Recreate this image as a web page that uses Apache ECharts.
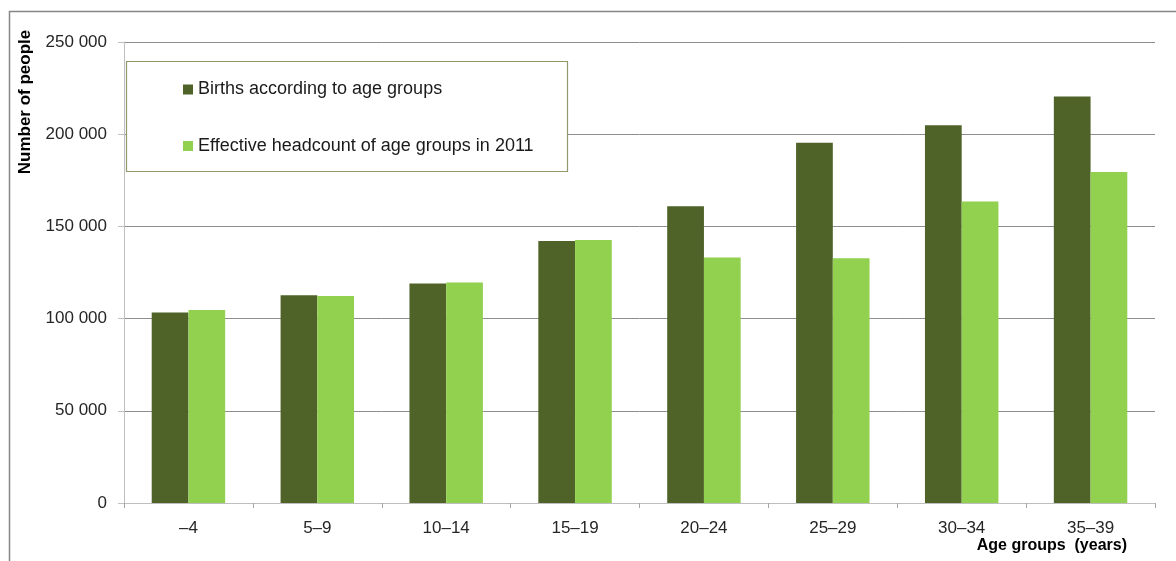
<!DOCTYPE html>
<html>
<head>
<meta charset="utf-8">
<script src="https://cdn.jsdelivr.net/npm/echarts@6/dist/echarts.min.js"></script>
<style>
html,body{margin:0;padding:0;background:#fff;}
#chart{width:1176px;height:561px;}
</style>
</head>
<body>
<div id="chart"></div>
<script>
var categories = ['–4', '5–9', '10–14', '15–19', '20–24', '25–29', '30–34', '35–39'];
var births = [103300, 112600, 119100, 142100, 160900, 195400, 204800, 220400];
var headcount = [104700, 112300, 119600, 142600, 133200, 132700, 163500, 179500];
var seriesNames = ['Births according to age groups', 'Effective headcount of age groups in 2011'];
var yTitle = 'Number of people';
var xTitle = 'Age groups  (years)';

var FONT = '"Liberation Sans", Arial, sans-serif';
var chart = echarts.init(document.getElementById('chart'));
chart.setOption({
  animation: false,
  backgroundColor: '#ffffff',
  grid: { left: 124, right: 21, top: 42, bottom: 58, containLabel: false },
  legend: {
    orient: 'vertical',
    left: 183,
    top: 79.5,
    padding: 0,
    itemWidth: 10,
    itemHeight: 10,
    itemGap: 36.5,
    icon: 'rect',
    z: 10,
    textStyle: { fontFamily: FONT, fontSize: 18, color: '#1a1a1a', lineHeight: 20 },
    data: seriesNames
  },
  xAxis: {
    type: 'category',
    data: categories,
    axisLine: { show: true, lineStyle: { color: '#bfbfbf', width: 1 } },
    axisTick: { show: true, length: 5, lineStyle: { color: '#a6a6a6' } },
    axisLabel: { fontFamily: FONT, fontSize: 17, color: '#262626', margin: 17 },
    splitLine: { show: false }
  },
  yAxis: {
    type: 'value',
    min: 0,
    max: 250000,
    interval: 50000,
    axisLine: { show: true, lineStyle: { color: '#bfbfbf', width: 1 } },
    axisTick: { show: true, length: 6, lineStyle: { color: '#bfbfbf' } },
    axisLabel: {
      fontFamily: FONT, fontSize: 17, color: '#262626', margin: 17,
      formatter: function (v) { return String(v).replace(/\B(?=(\d{3})+(?!\d))/g, ' '); }
    },
    splitLine: { show: true, lineStyle: { color: '#8e8e8e', width: 1 } }
  },
  series: [
    {
      name: seriesNames[0], type: 'bar', data: births,
      barGap: '0%', barCategoryGap: '43%',
      itemStyle: { color: '#4f6228' }
    },
    {
      name: seriesNames[1], type: 'bar', data: headcount,
      barGap: '0%', barCategoryGap: '43%',
      itemStyle: { color: '#92d050' }
    }
  ],
  graphic: [
    {
      type: 'rect', z: 100, silent: true,
      shape: { x: 9.5, y: 11.5, width: 1300, height: 700 },
      style: { fill: 'none', stroke: '#868686', lineWidth: 1.5 }
    },
    {
      type: 'rect', z: 5, silent: true,
      shape: { x: 126.5, y: 61.5, width: 441, height: 110 },
      style: { fill: '#ffffff', stroke: '#8f9a6a', lineWidth: 1.2 }
    },
    {
      type: 'text', z: 10, silent: true,
      x: 25.5, y: 102, rotation: Math.PI / 2,
      style: { text: yTitle, font: 'bold 17px "Liberation Sans", Arial, sans-serif', fill: '#000000', align: 'center', verticalAlign: 'middle' }
    },
    {
      type: 'text', z: 10, silent: true,
      x: 1127, y: 546,
      style: { text: xTitle, font: 'bold 16px "Liberation Sans", Arial, sans-serif', fill: '#000000', align: 'right', verticalAlign: 'middle' }
    }
  ]
});
</script>
</body>
</html>
